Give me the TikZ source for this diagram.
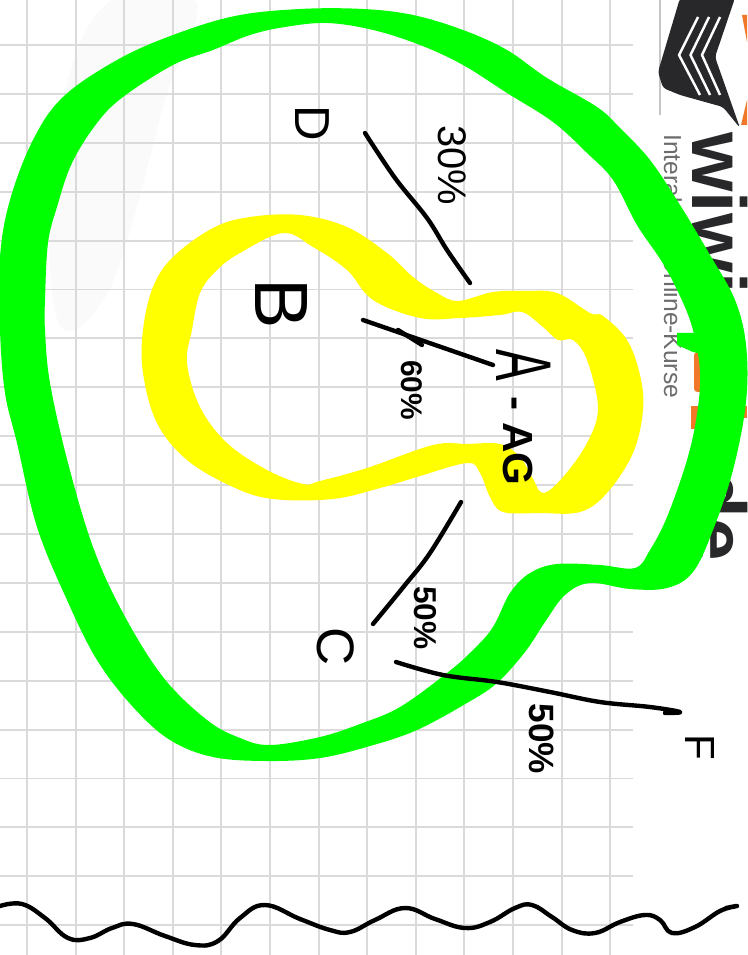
\documentclass[tikz,border=0pt]{standalone}
\usepackage{fontspec}
\setmainfont{Liberation Sans}
\definecolor{bandgreen}{RGB}{0,255,0}
\definecolor{bandyellow}{RGB}{255,255,0}
\definecolor{gridgray}{RGB}{218,218,218}
\definecolor{logodark}{RGB}{40,40,42}
\definecolor{logoorange}{RGB}{240,120,40}
\newcommand{\handsize}[1]{\fontsize{#1}{#1}\selectfont}
\tikzset{
	gridline/.style={draw=gridgray,line width=1.1pt},
	handline/.style={draw=black,line width=2.5pt,line cap=round,line join=round},
	handlabel/.style={rotate=-90,inner sep=0pt,text=black},
	logotext/.style={rotate=-90,inner sep=0pt,anchor=base west}
}
\begin{document}
\begin{tikzpicture}[x=0.02cm,y=-0.02cm]
	\useasboundingbox (0,0) rectangle (747,955);
	\fill[white] (0,0) rectangle (747,955);
	\fill[black!2] plot[smooth cycle,tension=.7] coordinates {(112,0) (195,0) (165,100) (130,230) (100,305) (60,325) (50,220) (65,90)};
	% squared paper
	\foreach \k in {0,...,12}
		\draw[gridline] ({27+48.6*\k},0) -- ({27+48.6*\k},955);
	\foreach \k in {0,...,18}
		\draw[gridline] (0,{45+48.9*\k}) -- (633,{45+48.9*\k});
	% logo behind the bands
	\draw[gray!45,line width=1pt] (660,0) -- (660,115);
	\fill[logodark,rounded corners=2pt] (680,-2) -- (658,72) -- (663,88) -- (680,95) -- (723,107) -- (740,128) -- (715,57) -- (735,-2) -- cycle;
	\foreach \s in {0,1,2}
		\draw[white,line width=1.4pt] ({698+11*\s},17) -- ({679+11.5*\s},55) -- ({700+10*\s},95);
	\fill[logoorange] (742,15) -- (747,15) -- (747,42) -- cycle;
	\fill[logoorange] (747,100) -- (747,125) -- (741,125) -- cycle;
	\fill[logoorange,rounded corners=2pt] (694,352) rectangle (703,392);
	\fill[logoorange] (691,406) rectangle (699,429);
	\fill[logoorange] (744,406) rectangle (747,418);
	\node[logotext,text=logodark,font=\bfseries\handsize{43.5pt}] (logoname) at (692,132) {wiwi};
	\node[logotext,text=logodark,font=\bfseries\handsize{43.5pt}] (logoend) at (692,471) {de};
	\node[logotext,text=gray!85!black,font=\handsize{14pt}] (logosub) at (664,134) {Interaktive Online-Kurse};
	% outer band
	\fill[bandgreen,even odd rule]
		plot[smooth cycle,tension=.6] coordinates {(300,9) (363,9) (413,15) (463,30) (507,50) (547,78) (597,107) (620,128) (650,160) (680,205) (710,255) (735,300) (746,345) (746,402) (733,470) (713,530) (693,572) (667,588) (630,589) (590,583) (565,595) (545,622) (525,652) (497,683) (467,703) (417,730) (370,746) (320,758) (267,761) (213,757) (170,740) (133,707) (97,660) (67,600) (37,527) (17,443) (5,393) (0,330) (0,257) (10,200) (33,140) (63,97) (117,60) (173,35) (235,16)}
		plot[smooth cycle,tension=.6] coordinates {(327,23) (373,30) (420,45) (463,65) (507,93) (553,122) (587,153) (613,180) (637,225) (662,262) (680,296) (693,330) (700,372) (697,414) (687,460) (667,517) (650,550) (635,568) (600,565) (557,564) (530,573) (510,593) (493,627) (473,650) (447,673) (400,707) (360,724) (320,737) (270,745) (240,738) (207,720) (163,677) (123,613) (93,547) (68,463) (50,383) (45,330) (45,300) (48,243) (57,207) (72,163) (97,123) (123,97) (173,65) (213,50) (250,35) (285,27)};
	\fill[bandgreen] (677,333) -- (702,333) -- (702,354) -- (693,352) -- (677,345) -- cycle;
	% inner band
	\fill[bandyellow,even odd rule]
		plot[smooth cycle,tension=.6] coordinates {(300,215) (347,227) (387,253) (413,277) (437,293) (458,301) (493,292) (525,291) (557,293) (590,313) (603,316) (627,340) (640,375) (643,410) (633,453) (607,493) (580,512) (540,513) (503,512) (490,497) (480,473) (467,463) (417,477) (380,488) (333,499) (273,499) (233,487) (187,460) (157,423) (143,373) (143,330) (153,287) (173,257) (213,228) (250,217)}
		plot[smooth cycle,tension=.6] coordinates {(283,233) (313,247) (347,270) (373,300) (420,318) (460,318) (500,315) (522,312) (543,327) (558,340) (573,340) (587,360) (598,408) (587,443) (563,477) (543,493) (532,477) (520,457) (500,444) (467,444) (433,445) (367,468) (320,481) (303,484) (267,470) (227,443) (200,407) (187,363) (192,330) (200,293) (217,270) (240,253)};
	% labels
	\node[handlabel,font=\handsize{28pt}] (labelD) at (312,123) {D};
	\node[handlabel,font=\handsize{43pt}] (labelB) at (281,304) {B};
	\node[handlabel,font=\handsize{45pt}] (labelA) at (524,365) {\scalebox{.6}[1]{A}};
	\node[handlabel,font=\handsize{30pt}] (labelC) at (336,647) {C};
	\node[handlabel,font=\handsize{24pt}] (labelF) at (700,747) {F};
	\node[handlabel,font=\bfseries\handsize{24pt}] (labelAG) at (518,441) {- AG};
	\node[handlabel,font=\handsize{22.7pt}] (pctD) at (452,165) {30\%};
	\node[handlabel,font=\bfseries\handsize{17pt}] (pctB) at (412,390) {60\%};
	\node[handlabel,font=\bfseries\handsize{18pt}] (pctC) at (425,618) {50\%};
	\node[handlabel,font=\bfseries\handsize{20pt}] (pctF) at (542,739) {50\%};
	% hand drawn lines
	\coordinate (dfrom) at (365,133);
	\coordinate (dto) at (470,283);
	\coordinate (bfrom) at (363,320);
	\coordinate (bto) at (493,365);
	\coordinate (tickfrom) at (398,330);
	\coordinate (tickto) at (422,345);
	\coordinate (cfrom) at (461,502);
	\coordinate (cto) at (373,624);
	\coordinate (ffrom) at (396,662);
	\coordinate (fto) at (680,712);
	\coordinate (wavefrom) at (0,906);
	\coordinate (waveto) at (726,908);
	\draw[handline] plot[smooth,tension=.6] coordinates {(dfrom) (395,178) (427,218) (447,250) (dto)};
	\draw[handline] (bfrom) -- (bto);
	\draw[handline] (tickfrom) -- (tickto);
	\draw[handline] plot[smooth,tension=.6] coordinates {(cfrom) (430,553) (405,585) (cto)};
	\draw[handline] plot[smooth,tension=.6] coordinates {(ffrom) (443,675) (497,682) (550,692) (600,702) (650,707) (fto) (665,713)};
	\draw[handline] plot[smooth,tension=.7] coordinates {(wavefrom) (22,904) (45,918) (68,938) (90,938) (112,928) (133,924) (165,936) (195,945) (218,941) (240,918) (265,905) (300,919) (330,930) (350,932) (375,920) (405,908) (435,919) (465,928) (490,922) (515,908) (532,905) (552,917) (572,930) (595,933) (620,922) (645,915) (660,920) (672,933) (695,927) (720,911) (737,906) (waveto)};
\end{tikzpicture}
\end{document}
